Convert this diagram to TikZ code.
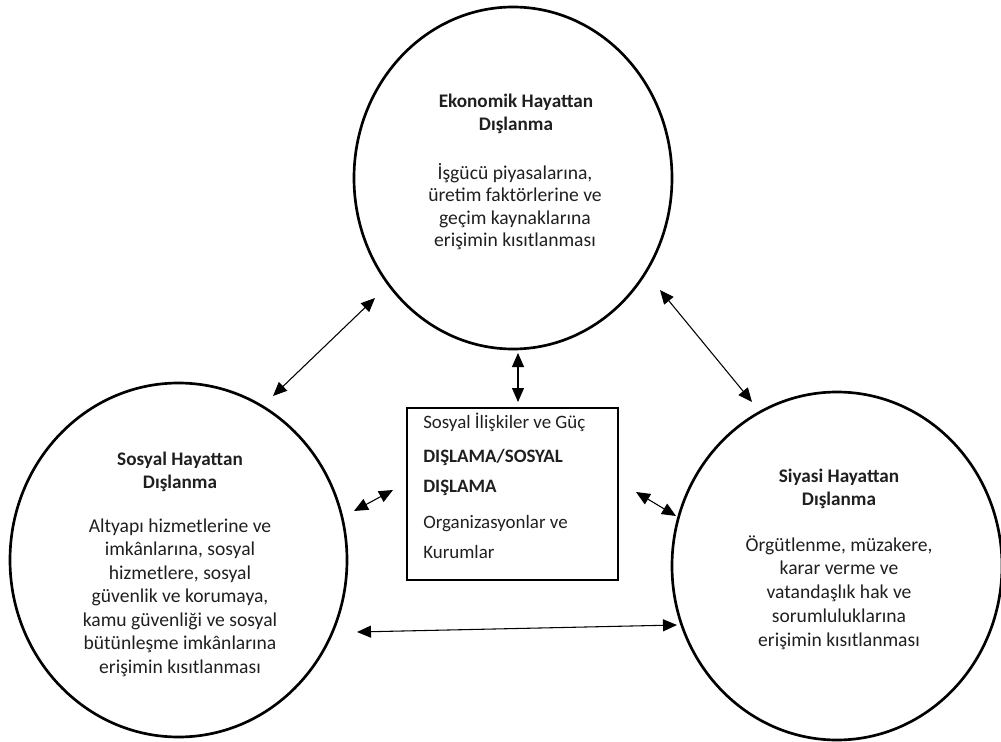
\documentclass[tikz,border=0pt]{standalone}
\usepackage{fontspec}
\setmainfont{Carlito}
\usetikzlibrary{shapes.geometric,arrows.meta}
\begin{document}
\begin{tikzpicture}[x=0.75pt,y=-0.75pt,
  circ/.style={draw,ellipse,line width=2pt,inner sep=0pt},
  hd/.style={align=center,inner sep=0pt,text=black!88,font=\fontsize{14.4}{17.25}\selectfont\bfseries},
  body/.style={align=center,inner sep=0pt,text=black!88,font=\fontsize{14.7}{#1}\selectfont},
  boxtxt/.style={align=left,anchor=west,inner sep=0pt,text=black!88,font=\fontsize{14.2}{22.5}\selectfont},
  centerbox/.style={draw,line width=1pt,rectangle,inner sep=0pt,minimum width=158.25pt,minimum height=129pt},
  link/.style={line width=0.8pt,{Triangle[length=10.5pt,width=9pt]}-{Triangle[length=10.5pt,width=9pt]}}]
\useasboundingbox (0,0) rectangle (1001,742);

% circles
\node[circ,minimum width=238.5pt,minimum height=256.5pt] (eko) at (513,178) {};
\node[circ,minimum width=252.75pt,minimum height=265.5pt] (sos) at (178.5,560) {};
\node[circ,minimum width=247.5pt,minimum height=261pt] (siy) at (837,566) {};

% central box
\node[centerbox] (box) at (512.5,494) {};

% texts
\node[hd] (ekoh) at (516,113.5) {Ekonomik Hayattan\\Dışlanma};
\node[body=16.75] (ekob) at (515,206.5) {İşgücü piyasalarına,\\üretim faktörlerine ve\\geçim kaynaklarına\\erişimin kısıtlanması};

\node[hd] (sosh) at (180,471.5) {Sosyal Hayattan\\Dışlanma};
\node[body=17.6] (sosb) at (180,597.5) {Altyapı hizmetlerine ve\\imkânlarına, sosyal\\hizmetlere, sosyal\\güvenlik ve korumaya,\\kamu güvenliği ve sosyal\\bütünleşme imkânlarına\\erişimin kısıtlanması};

\node[hd] (siyh) at (839,489) {Siyasi Hayattan\\Dışlanma};
\node[body=17.8] (siyb) at (839,592.5) {Örgütlenme, müzakere,\\karar verme ve\\vatandaşlık hak ve\\sorumluluklarına\\erişimin kısıtlanması};

\node[boxtxt] (b1) at (423,422) {Sosyal İlişkiler ve Güç};
\node[boxtxt,font=\fontsize{14.2}{22.5}\selectfont\bfseries] (b2) at (423,472) {DIŞLAMA/SOSYAL\\DIŞLAMA};
\node[boxtxt] (b3) at (423,537) {Organizasyonlar ve\\Kurumlar};

% arrow end points
\coordinate (a1s) at (375,298);
\coordinate (a1e) at (273,396);
\coordinate (a2s) at (660,290);
\coordinate (a2e) at (752,402);
\coordinate (a3s) at (518,353);
\coordinate (a3e) at (518,402);
\coordinate (a4s) at (393,490);
\coordinate (a4e) at (354,511);
\coordinate (a5s) at (636,492);
\coordinate (a5e) at (676,516);
\coordinate (a6s) at (357,632);
\coordinate (a6e) at (677,625);

\draw[link] (a1s) -- (a1e);
\draw[link] (a2s) -- (a2e);
\draw[link] (a3s) -- (a3e);
\draw[link] (a4s) -- (a4e);
\draw[link] (a5s) -- (a5e);
\draw[link] (a6s) -- (a6e);
\end{tikzpicture}
\end{document}
